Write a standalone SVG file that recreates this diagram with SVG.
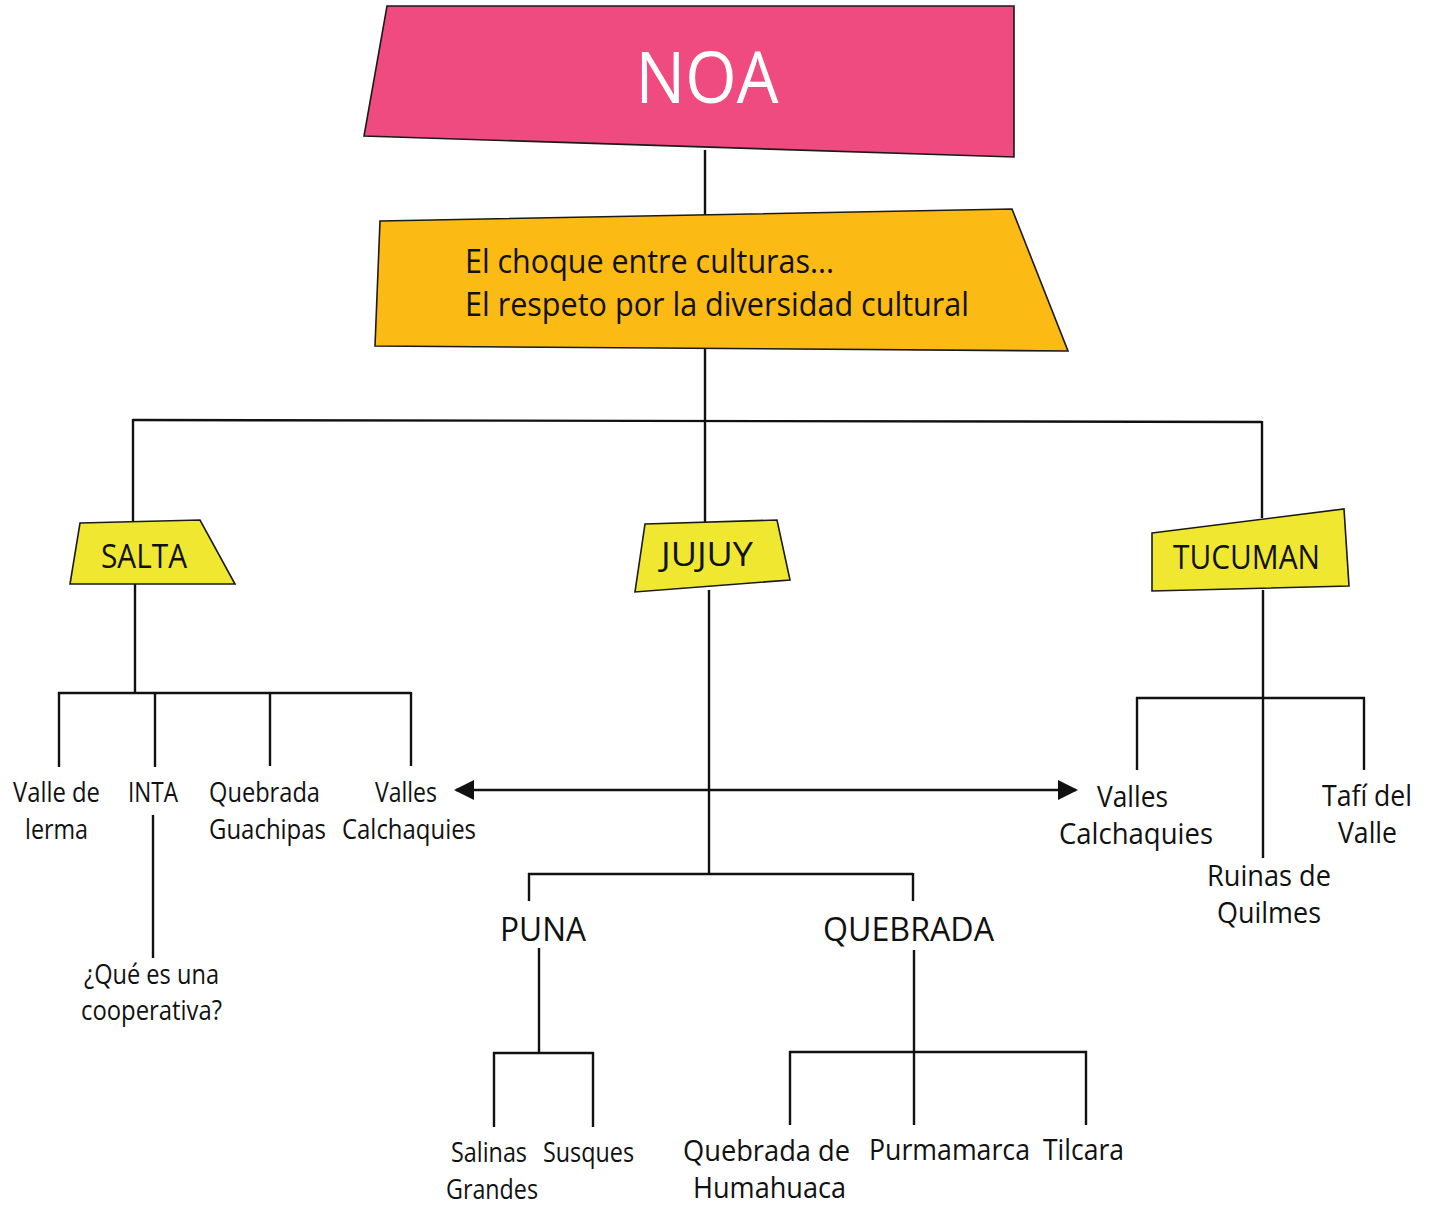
<svg xmlns="http://www.w3.org/2000/svg" width="1438" height="1205" viewBox="0 0 1438 1205">
  <style>
    .box { stroke: #1a1a1a; stroke-width: 1.6; stroke-linejoin: miter; }
    .noa { fill: #EF4B80; }
    .tema { fill: #FBBA14; }
    .prov { fill: #F0E830; }
    .ln { fill: none; stroke: #111; stroke-width: 2.4; stroke-linecap: butt; }
    text { font-family: "Open Sans", "Noto Sans", sans-serif; fill: #111; }
    .title { fill: #fff; font-size: 72px; }
    .big { font-size: 32px; }
    .lbl { font-size: 28px; }
    .lbl2 { font-size: 29px; }
    .mid { text-anchor: middle; }
  </style>
  <defs>
    <marker id="tri" viewBox="0 0 10 10" refX="9" refY="5" markerWidth="20" markerHeight="20" markerUnits="userSpaceOnUse" orient="auto-start-reverse" preserveAspectRatio="none">
      <path d="M0,0 L10,5 L0,10 Z" fill="#111"/>
    </marker>
  </defs>

  <!-- connectors -->
  <g id="connectors">
    <path class="ln" d="M705,150 V215"/>
    <path class="ln" d="M705,349 V421"/>
    <path class="ln" d="M133,420 L1262,422"/>
    <path class="ln" d="M133,419 V522"/>
    <path class="ln" d="M705,421 V523"/>
    <path class="ln" d="M1262,421 V518"/>

    <!-- Salta -->
    <path class="ln" d="M135,584 V693"/>
    <path class="ln" d="M58,693 H411"/>
    <path class="ln" d="M59,692 V767"/>
    <path class="ln" d="M155,692 V767"/>
    <path class="ln" d="M270,692 V766"/>
    <path class="ln" d="M411,692 V766"/>
    <path class="ln" d="M153,815 V958"/>

    <!-- Valles Calchaquies link -->
    <path class="ln" d="M456,790 H1076" marker-start="url(#tri)" marker-end="url(#tri)"/>

    <!-- Jujuy -->
    <path class="ln" d="M709,590 V873"/>
    <path class="ln" d="M528,874 H913"/>
    <path class="ln" d="M529,873 V901"/>
    <path class="ln" d="M913,873 V901"/>
    <path class="ln" d="M539,948 V1053"/>
    <path class="ln" d="M493,1053 H594"/>
    <path class="ln" d="M494,1052 V1127"/>
    <path class="ln" d="M593,1052 V1127"/>
    <path class="ln" d="M914,950 V1125"/>
    <path class="ln" d="M789,1052 H1087"/>
    <path class="ln" d="M790,1051 V1125"/>
    <path class="ln" d="M1086,1051 V1125"/>

    <!-- Tucuman -->
    <path class="ln" d="M1263,590 V858"/>
    <path class="ln" d="M1136,698 H1365"/>
    <path class="ln" d="M1137,697 V770"/>
    <path class="ln" d="M1364,697 V770"/>
  </g>

  <!-- main title -->
  <g id="noa">
    <polygon class="box noa" points="387,6 1014,6 1014,157 364,136"/>
    <text class="title mid" x="707" y="103" textLength="143" lengthAdjust="spacingAndGlyphs">NOA</text>
  </g>

  <!-- theme -->
  <g id="tema">
    <polygon class="box tema" points="380,221 1012,209 1068,351 375,346"/>
    <text class="big" x="465" y="273" textLength="369" lengthAdjust="spacingAndGlyphs">El choque entre culturas...</text>
    <text class="big" x="465" y="316" textLength="504" lengthAdjust="spacingAndGlyphs">El respeto por la diversidad cultural</text>
  </g>

  <!-- provinces -->
  <g id="salta">
    <polygon class="box prov" points="80,523 200,520 235,584 70,584"/>
    <text class="big" x="101" y="568" textLength="86" lengthAdjust="spacingAndGlyphs">SALTA</text>
  </g>
  <g id="jujuy">
    <polygon class="box prov" points="645,524 777,520 790,580 635,592"/>
    <text class="big" x="661" y="566" textLength="92" lengthAdjust="spacingAndGlyphs">JUJUY</text>
  </g>
  <g id="tucuman">
    <polygon class="box prov" points="1152,533 1344,509 1349,586 1152,591"/>
    <text class="big" x="1173" y="569" textLength="147" lengthAdjust="spacingAndGlyphs">TUCUMAN</text>
  </g>

  <!-- Salta places -->
  <g id="valle-de-lerma">
    <text class="lbl" x="13" y="802" textLength="87" lengthAdjust="spacingAndGlyphs">Valle de</text>
    <text class="lbl" x="25" y="839" textLength="63" lengthAdjust="spacingAndGlyphs">lerma</text>
  </g>
  <g id="inta">
    <text class="lbl" x="128" y="802" textLength="50" lengthAdjust="spacingAndGlyphs">INTA</text>
  </g>
  <g id="quebrada-guachipas">
    <text class="lbl" x="209" y="802" textLength="111" lengthAdjust="spacingAndGlyphs">Quebrada</text>
    <text class="lbl" x="209" y="839" textLength="117" lengthAdjust="spacingAndGlyphs">Guachipas</text>
  </g>
  <g id="valles-salta">
    <text class="lbl" x="375" y="802" textLength="62" lengthAdjust="spacingAndGlyphs">Valles</text>
    <text class="lbl" x="342" y="839" textLength="134" lengthAdjust="spacingAndGlyphs">Calchaquies</text>
  </g>
  <g id="cooperativa">
    <text class="lbl" x="84" y="984" textLength="135" lengthAdjust="spacingAndGlyphs">¿Qué es una</text>
    <text class="lbl" x="81" y="1020" textLength="141" lengthAdjust="spacingAndGlyphs">cooperativa?</text>
  </g>

  <!-- Jujuy regions -->
  <g id="puna">
    <text class="big" x="500" y="941" textLength="86" lengthAdjust="spacingAndGlyphs">PUNA</text>
  </g>
  <g id="quebrada">
    <text class="big" x="823" y="941" textLength="171" lengthAdjust="spacingAndGlyphs">QUEBRADA</text>
  </g>
  <g id="salinas-grandes">
    <text class="lbl" x="451" y="1162" textLength="76" lengthAdjust="spacingAndGlyphs">Salinas</text>
    <text class="lbl" x="446" y="1199" textLength="92" lengthAdjust="spacingAndGlyphs">Grandes</text>
  </g>
  <g id="susques">
    <text class="lbl" x="543" y="1162" textLength="91" lengthAdjust="spacingAndGlyphs">Susques</text>
  </g>
  <g id="humahuaca">
    <text class="lbl2" x="683" y="1161" textLength="167" lengthAdjust="spacingAndGlyphs">Quebrada de</text>
    <text class="lbl2" x="693" y="1198" textLength="153" lengthAdjust="spacingAndGlyphs">Humahuaca</text>
  </g>
  <g id="purmamarca">
    <text class="lbl2" x="869" y="1160" textLength="161" lengthAdjust="spacingAndGlyphs">Purmamarca</text>
  </g>
  <g id="tilcara">
    <text class="lbl2" x="1043" y="1160" textLength="81" lengthAdjust="spacingAndGlyphs">Tilcara</text>
  </g>

  <!-- Tucuman places -->
  <g id="valles-tucuman">
    <text class="lbl2" x="1097" y="807" textLength="71" lengthAdjust="spacingAndGlyphs">Valles</text>
    <text class="lbl2" x="1059" y="844" textLength="154" lengthAdjust="spacingAndGlyphs">Calchaquies</text>
  </g>
  <g id="quilmes">
    <text class="lbl2" x="1207" y="886" textLength="124" lengthAdjust="spacingAndGlyphs">Ruinas de</text>
    <text class="lbl2" x="1217" y="923" textLength="104" lengthAdjust="spacingAndGlyphs">Quilmes</text>
  </g>
  <g id="tafi">
    <text class="lbl2" x="1322" y="806" textLength="90" lengthAdjust="spacingAndGlyphs">Tafí del</text>
    <text class="lbl2" x="1338" y="843" textLength="59" lengthAdjust="spacingAndGlyphs">Valle</text>
  </g>
</svg>
